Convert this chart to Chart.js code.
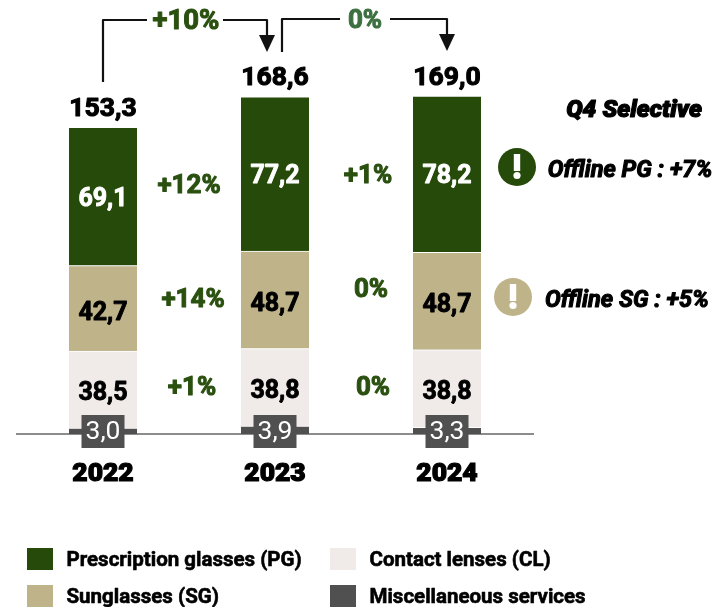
<!DOCTYPE html>
<html><head><meta charset="utf-8">
<style>html,body{margin:0;padding:0;background:#fff}canvas{display:block}</style>
<script src="https://cdn.jsdelivr.net/npm/chart.js@4"></script>
</head><body><canvas id="c" width="715" height="607"></canvas>
<script>
const categories=['2022','2023','2024'];
const misc=[3.0,3.9,3.3];
const contact=[38.5,38.8,38.8];
const sun=[42.7,48.7,48.7];
const presc=[69.1,77.2,78.2];
const totals=['153,3','168,6','169,0'];
const growthPG=['+12%','+1%'];
const growthSG=['+14%','0%'];
const growthCL=['+1%','0%'];
const growthTotal=['+10%','0%'];
const GREEN='#254a0a',KHAKI='#bfb38a',PALE='#f0ebe8',GREY='#505050';
const fmt=v=>v.toFixed(1).replace('.',',');
const FF='Roboto, sans-serif';
function txt(ctx,s,x,y,font,color,stroke,align){
  ctx.font=font;ctx.fillStyle=color;ctx.textAlign=align||'center';ctx.textBaseline='middle';
  if(stroke){ctx.lineWidth=stroke;ctx.strokeStyle=color;ctx.lineJoin='round';ctx.strokeText(s,x,y);}
  ctx.fillText(s,x,y);
}
function arrow(ctx,pts,tip){
  ctx.strokeStyle='#111';ctx.lineWidth=2.2;ctx.beginPath();
  pts.forEach((p,i)=>i?ctx.lineTo(p[0],p[1]):ctx.moveTo(p[0],p[1]));ctx.stroke();
  if(tip){ctx.fillStyle='#111';ctx.beginPath();ctx.moveTo(tip[0]-8,tip[1]-17);ctx.lineTo(tip[0]+8,tip[1]-17);ctx.lineTo(tip[0],tip[1]);ctx.closePath();ctx.fill();}
}
function bang(ctx,x,y,color){
  ctx.fillStyle=color;ctx.beginPath();ctx.arc(x,y,19,0,Math.PI*2);ctx.fill();
  ctx.fillStyle='#fff';ctx.fillRect(x-3.2,y-13,6.4,17);
  ctx.beginPath();ctx.arc(x,y+8.5,3.6,0,Math.PI*2);ctx.fill();
}
const overlay={id:'overlay',afterDatasetsDraw(chart){
  const ctx=chart.ctx,xs=chart.scales.x,ys=chart.scales.y;ctx.save();
  const ds=chart.data.datasets;
  const B='700 25px '+FF,T='700 26.5px '+FF;
  categories.forEach((c,i)=>{
    const x=xs.getPixelForValue(i);
    let base=0;
    [misc,contact,sun,presc].forEach((arr,k)=>{
      const v=arr[i],mid=ys.getPixelForValue(base+v/2);
      base+=v;
      if(k===1)txt(ctx,fmt(v),x,mid+4,B,'#000',.9);
      if(k===2)txt(ctx,fmt(v),x,mid+5,B,'#000',.9);
      if(k===3)txt(ctx,fmt(v),x,mid+3,B,'#fff',.9);
    });
    txt(ctx,totals[i],x,ys.getPixelForValue(base)-18,T,'#000',1.1);
    const my=ys.getPixelForValue(0)-3;
    ctx.fillStyle=GREY;ctx.fillRect(x-21.5,my-16,43,33);
    txt(ctx,fmt(misc[i]),x,my+1.5,'400 26.5px '+FF,'#fff');
  });
  // growth labels
  const G='700 26px '+FF;
  [[growthPG,[189,368],[186,176]],[growthSG,[193,371],[300,290]],[growthCL,[192,373],[388,388]]].forEach(r=>{
    r[0].forEach((s,i)=>txt(ctx,s,r[1][i],r[2][i],G,'#2a5010',1));
  });
  // brackets
  arrow(ctx,[[103,82],[103,20],[147,20]]);
  arrow(ctx,[[223,20],[267,20],[267,38]],[267,52]);
  arrow(ctx,[[282,52],[282,19],[340,19]]);
  arrow(ctx,[[390,19],[447,19],[447,36]],[447,51]);
  txt(ctx,growthTotal[0],186,22,'700 27.5px '+FF,'#2a5010',1);
  txt(ctx,growthTotal[1],365,21,G,'#3d7040',1);
  // right notes
  const I='italic 700 23.5px '+FF;
  txt(ctx,'Q4 Selective',634,111,'italic 900 24.5px '+FF,'#000',1.2);
  bang(ctx,517,167,GREEN);
  txt(ctx,'Offline PG : +7%',630,171,I,'#000',1.1);
  bang(ctx,513,297,KHAKI);
  txt(ctx,'Offline SG : +5%',627,301,I,'#000',1.1);
  // legend
  const L='700 20.5px '+FF;
  [[presc,27,548,3],[contact,330,548,1],[sun,27,585,2],[misc,330,585,0]].forEach(e=>{
    const d=ds[e[3]];
    ctx.fillStyle=d.backgroundColor;ctx.fillRect(e[1],e[2],26,22);
    txt(ctx,d.label,e[1]+39.5,e[2]+13,L,'#000',.6,'left');
  });
  ctx.restore();
}};
new Chart(document.getElementById('c'),{
  type:'bar',
  data:{labels:categories,datasets:[
    {label:'Miscellaneous services',data:misc,backgroundColor:GREY},
    {label:'Contact lenses (CL)',data:contact,backgroundColor:PALE},
    {label:'Sunglasses (SG)',data:sun,backgroundColor:KHAKI},
    {label:'Prescription glasses (PG)',data:presc,backgroundColor:GREEN}
  ].map(d=>Object.assign(d,{stack:'a',borderWidth:{top:1},borderColor:'#fff',borderSkipped:false,barThickness:68}))},
  plugins:[overlay],
  options:{responsive:false,animation:false,
    layout:{padding:{left:17,right:182,top:34,bottom:0}},
    plugins:{legend:{display:false},tooltip:{enabled:false}},
    scales:{
      x:{stacked:true,offset:true,grid:{display:false,drawTicks:false},border:{color:'#8c8c8c',width:2},
         ticks:{color:'#000',padding:24,textStrokeColor:'#000',textStrokeWidth:1.2,font:{family:'Roboto',weight:'900',size:26.5}},
         afterFit(s){s.height=173;}},
      y:{stacked:true,min:0,max:200,display:false}
    }}
});
</script></body></html>
